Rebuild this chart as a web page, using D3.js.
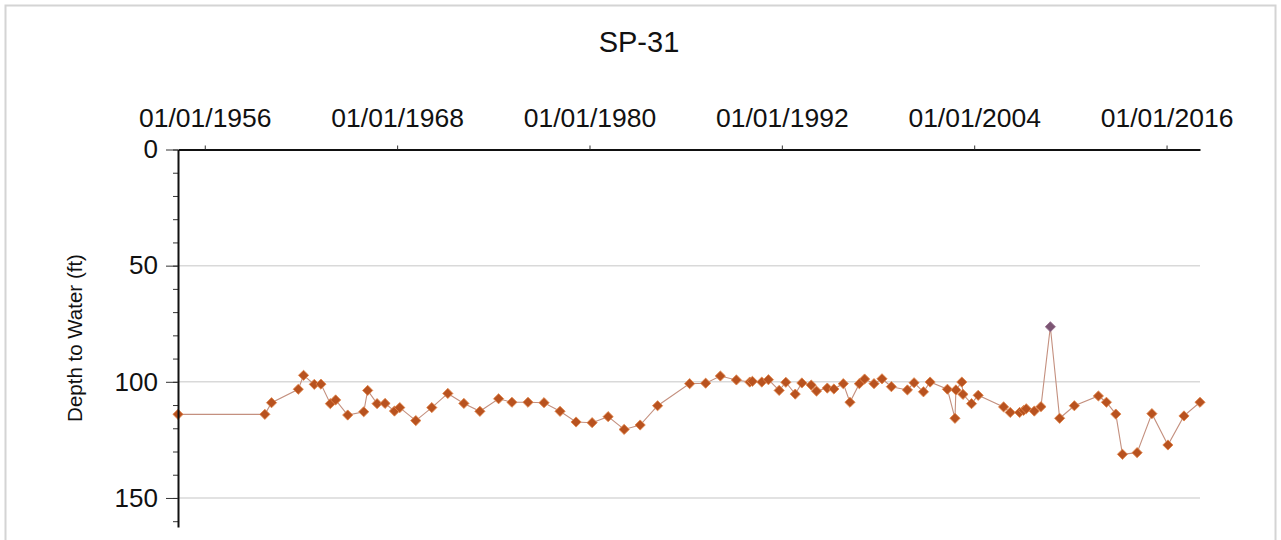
<!DOCTYPE html>
<html>
<head>
<meta charset="utf-8">
<script src="https://cdn.jsdelivr.net/npm/d3@7"></script>
<style>
  html, body { margin: 0; padding: 0; background: #fff; }
  svg { display: block; font-family: "Liberation Sans", Arial, sans-serif; }
</style>
</head>
<body>
<svg id="chart" width="1281" height="540"></svg>
<script>
const title = "SP-31";
const yLabel = "Depth to Water (ft)";

const sampleDates = [
  "1954-05-01", "1959-10-01", "1960-03-01", "1961-11-01", "1962-03-01", "1962-11-01",
  "1963-04-01", "1963-11-01", "1964-03-01", "1964-12-01", "1965-12-01", "1966-03-01",
  "1966-10-01", "1967-04-01", "1967-11-01", "1968-03-01", "1969-03-01", "1970-03-01",
  "1971-03-01", "1972-03-01", "1973-03-01", "1974-05-01", "1975-03-01", "1976-03-01",
  "1977-03-01", "1978-03-01", "1979-03-01", "1980-03-01", "1981-03-01", "1982-03-01",
  "1983-03-01", "1984-04-01", "1986-04-01", "1987-04-01", "1988-03-01", "1989-03-01",
  "1990-01-01", "1990-03-01", "1990-10-01", "1991-03-01", "1991-11-01", "1992-04-01",
  "1992-11-01", "1993-04-01", "1993-11-01", "1994-03-01", "1994-11-01", "1995-04-01",
  "1995-11-01", "1996-04-01", "1996-11-01", "1997-03-01", "1997-10-01", "1998-04-01",
  "1998-11-01", "1999-11-01", "2000-04-01", "2000-11-01", "2001-04-01", "2002-05-01",
  "2002-10-20", "2002-11-10", "2003-03-25", "2003-04-20", "2003-11-01", "2004-04-01",
  "2005-11-01", "2006-04-01", "2006-11-01", "2007-02-01", "2007-04-01", "2007-10-01",
  "2008-03-01", "2008-10-01", "2009-05-01", "2010-04-01", "2011-10-01", "2012-04-01",
  "2012-11-01", "2013-04-01", "2014-03-01", "2015-02-01", "2016-02-01", "2017-02-01",
  "2018-02-01"
];

const depthFt = [
  114, 114, 109, 103.2, 97.2, 101.1,
  101, 109.4, 107.8, 114.3, 112.9, 103.7,
  109.4, 109.3, 112.6, 111.1, 116.7, 111.1,
  105, 109.3, 112.7, 107.3, 108.8, 108.8,
  109, 112.7, 117.3, 117.6, 115, 120.5,
  118.6, 110.3, 100.8, 100.6, 97.5, 99.2,
  100.1, 99.8, 100.1, 99.1, 103.7, 100.2,
  105.3, 100.5, 101.4, 104, 102.7, 103.1,
  100.8, 108.8, 100.8, 98.8, 100.8, 98.7,
  102.1, 103.5, 100.4, 104.3, 100.1, 103.2,
  115.7, 103.5, 100.1, 105.4, 109.4, 105.8,
  110.8, 113.2, 113.2, 112.3, 111.6, 112.6,
  110.7, 76.3, 115.7, 110.3, 106.1, 108.8,
  113.9, 131.2, 130.5, 113.7, 127.2, 114.7,
  108.8
];

// measurement flagged in the source (drawn in a different colour)
const flaggedDates = ["2008-10-01"];

const xTickDates = ["1956-01-01", "1968-01-01", "1980-01-01", "1992-01-01", "2004-01-01", "2016-01-01"];
const yMajorTicks = [0, 50, 100, 150];
const yMinorTicks = d3.range(0, 161, 10);
const yGridLines = [50, 100, 150];

// ---- layout ----
const plot = { left: 178, right: 1200, top: 149.5, bottom: 527 };
const yMax = 162.5;

const parse = d3.timeParse("%Y-%m-%d");
const fmt = d3.timeFormat("%m/%d/%Y");

const points = sampleDates.map((d, i) => ({
  date: parse(d),
  depth: depthFt[i],
  flagged: flaggedDates.includes(d)
}));

const svg = d3.select("#chart");

// outer frame
svg.append("rect")
  .attr("x", 5.5).attr("y", 5.5)
  .attr("width", 1270).attr("height", 560)
  .attr("fill", "none")
  .attr("stroke", "#d4d4d4")
  .attr("stroke-width", 2);

const x = d3.scaleTime()
  .domain(d3.extent(points, d => d.date))
  .range([plot.left, plot.right]);

const y = d3.scaleLinear()
  .domain([0, yMax])
  .range([plot.top, plot.bottom]);

// gridlines
svg.append("g")
  .selectAll("line")
  .data(yGridLines)
  .join("line")
  .attr("x1", plot.left).attr("x2", plot.right)
  .attr("y1", d => y(d)).attr("y2", d => y(d))
  .attr("stroke", "#d9d9d9")
  .attr("stroke-width", 1.5);

// series line
const line = d3.line()
  .x(d => x(d.date))
  .y(d => y(d.depth));

svg.append("path")
  .datum(points)
  .attr("fill", "none")
  .attr("stroke", "#c4907f")
  .attr("stroke-width", 1.1)
  .attr("d", line);

// diamonds
const diamond = d3.symbol().type(d3.symbolSquare).size(52);

svg.append("g")
  .selectAll("path")
  .data(points)
  .join("path")
  .attr("d", diamond)
  .attr("transform", d => `translate(${x(d.date)},${y(d.depth)}) rotate(45)`)
  .attr("fill", d => d.flagged ? "#7b5573" : "#b8521f")
  .attr("stroke", d => d.flagged ? "#9a7090" : "#e0844a")
  .attr("stroke-width", 0.8);

// top (date) axis
const xAxis = d3.axisTop(x)
  .tickValues(xTickDates.map(parse))
  .tickFormat(fmt)
  .tickSizeInner(4)
  .tickSizeOuter(0)
  .tickPadding(18.5);

const gx = svg.append("g")
  .attr("transform", `translate(0,${plot.top})`)
  .call(xAxis);

gx.select(".domain").attr("stroke", "#111").attr("stroke-width", 2);
gx.selectAll(".tick line").attr("stroke", "#333");
gx.selectAll(".tick text")
  .attr("fill", "#111")
  .style("font-size", "26.5px");

// left axis: minor ticks then major ticks with labels
const gyMinor = svg.append("g")
  .attr("transform", `translate(${plot.left},0)`)
  .call(d3.axisLeft(y).tickValues(yMinorTicks).tickSize(5).tickFormat(""));
gyMinor.select(".domain").remove();
gyMinor.selectAll(".tick line").attr("stroke", "#333");

const gy = svg.append("g")
  .attr("transform", `translate(${plot.left},0)`)
  .call(d3.axisLeft(y).tickValues(yMajorTicks).tickSizeInner(12).tickSizeOuter(0).tickPadding(8));

gy.select(".domain").attr("stroke", "#111").attr("stroke-width", 2);
gy.selectAll(".tick line").attr("stroke", "#333");
gy.selectAll(".tick text")
  .attr("fill", "#111")
  .style("font-size", "26px");

// title
svg.append("text")
  .attr("x", 639)
  .attr("y", 52)
  .attr("text-anchor", "middle")
  .attr("fill", "#111")
  .style("font-size", "29px")
  .text(title);

// y-axis label
svg.append("text")
  .attr("transform", "translate(82,338) rotate(-90)")
  .attr("text-anchor", "middle")
  .attr("fill", "#111")
  .style("font-size", "20.5px")
  .text(yLabel);
</script>
</body>
</html>
